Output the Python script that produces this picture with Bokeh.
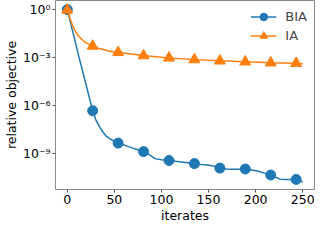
from bokeh.plotting import figure
from bokeh.models import Range1d, FixedTicker, CustomJSTickFormatter, Legend, LegendItem
from bokeh.embed import file_html
from bokeh.resources import INLINE

# ---- data ----
line_iters_bia = [0, 13, 27, 30, 34, 38, 41, 46, 50, 54, 60, 68, 75, 81, 87, 93, 100, 108,
                  115, 121, 130, 135, 142, 149, 155, 162, 169, 176, 182, 189, 196, 203,
                  210, 216, 221, 226, 234, 243, 246, 250]
bia_line = [1.0, 8.0e-4, 4.7e-7, 1.4e-7, 4.9e-8, 2.1e-8, 1.26e-8, 7.9e-9, 5.6e-9, 4.4e-9,
            3.4e-9, 2.3e-9, 1.7e-9, 1.29e-9, 8.3e-10, 4.7e-10, 4.0e-10, 3.6e-10,
            3.2e-10, 2.9e-10, 2.5e-10, 2.3e-10, 2.05e-10, 1.9e-10, 1.6e-10, 1.2e-10,
            1.05e-10, 1.0e-10, 1.02e-10, 1.05e-10, 9.0e-11, 7.6e-11, 5.6e-11, 4.4e-11,
            3.2e-11, 2.45e-11, 2.35e-11, 2.35e-11, 2.0e-11, 1.62e-11]
line_iters_ia = [0, 3, 6, 9, 12, 16, 20, 24, 27, 35, 44, 54, 81, 108, 135, 162, 189, 216, 243, 250]
ia_line = [0.95, 0.28, 0.089, 0.040, 0.0224, 0.0129, 0.0083, 0.0063, 0.0052, 0.0035,
           0.0026, 0.0021, 0.00132, 0.00095, 0.00074, 0.00062, 0.00054, 0.00047, 0.00044, 0.00041]

marker_iters = [0, 27, 54, 81, 108, 135, 162, 189, 216, 243]
bia_markers = [1.0, 4.7e-7, 4.4e-9, 1.29e-9, 3.6e-10, 2.3e-10, 1.2e-10, 1.05e-10, 4.4e-11, 2.35e-11]
ia_markers = [0.95, 0.0052, 0.0021, 0.00132, 0.00095, 0.00074, 0.00062, 0.00054, 0.00047, 0.00044]

x_ticks = [0, 50, 100, 150, 200, 250]
y_tick_exps = [-9, -6, -3, 0]
y_tick_labels = ["10\u207b\u2079", "10\u207b\u2076", "10\u207b\u00b3", "10\u2070"]
series_names = ["BIA", "IA"]
colors = ["#1f77b4", "#ff7f0e"]

FONT = "DejaVu Sans"

p = figure(width=316, height=225, output_backend="svg", toolbar_location=None,
           y_axis_type="log",
           x_range=Range1d(-12.5, 262.5), y_range=Range1d(10 ** -11.26, 10 ** 0.57),
           min_border_left=40, min_border_right=2, min_border_top=0, min_border_bottom=30)
p.background_fill_color = "white"
p.border_fill_color = "white"
p.xgrid.visible = False
p.ygrid.visible = False
p.outline_line_color = "#8a8a8a"
p.outline_line_width = 1

p.xaxis.ticker = FixedTicker(ticks=x_ticks)
p.yaxis.ticker = FixedTicker(ticks=[10.0 ** e for e in y_tick_exps])
p.yaxis.formatter = CustomJSTickFormatter(args=dict(exps=y_tick_exps, labels=y_tick_labels), code="""
    const e = Math.round(Math.log10(tick));
    const i = exps.indexOf(e);
    return i >= 0 ? labels[i] : "";
""")

for ax in (p.xaxis[0], p.yaxis[0]):
    ax.axis_line_color = None
    ax.major_tick_line_color = "#555555"
    ax.major_tick_out = 3
    ax.major_tick_in = 0
    ax.minor_tick_line_color = None
    ax.major_label_text_font = FONT
    ax.major_label_text_font_size = "12.5px"
    ax.major_label_text_color = "black"
    ax.axis_label_text_font = FONT
    ax.axis_label_text_font_size = "12.5px"
    ax.axis_label_text_font_style = "normal"
    ax.axis_label_text_color = "black"
    ax.major_label_standoff = 2
    ax.axis_label_standoff = 1

p.xaxis.axis_label = "iterates"
p.yaxis.axis_label = "relative objective"

l1 = p.line(line_iters_bia, bia_line, line_color=colors[0], line_width=1.5)
s1 = p.scatter(marker_iters, bia_markers, marker="circle", size=10,
               fill_color=colors[0], line_color=colors[0])
l2 = p.line(line_iters_ia, ia_line, line_color=colors[1], line_width=1.5)
s2 = p.scatter(marker_iters, ia_markers, marker="triangle", size=11,
               fill_color=colors[1], line_color=colors[1])

legend = Legend(items=[LegendItem(label=series_names[0], renderers=[l1, s1]),
                       LegendItem(label=series_names[1], renderers=[l2, s2])],
                location="top_right")
legend.border_line_alpha = 0
legend.background_fill_alpha = 0
legend.label_text_font = FONT
legend.label_text_font_size = "13px"
legend.glyph_width = 26
legend.glyph_height = 19
legend.label_height = 19
legend.label_standoff = 9
legend.spacing = 0
legend.margin = 3
legend.padding = 4
p.add_layout(legend, "center")

open("out.html", "w").write(file_html(p, INLINE))
